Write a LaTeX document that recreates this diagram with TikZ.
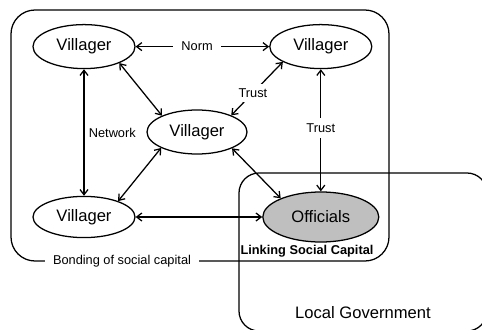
\documentclass[tikz,border=0pt]{standalone}
\usepackage{fontspec}
\setmainfont{Liberation Sans}
\usetikzlibrary{shapes.geometric,arrows.meta}

\begin{document}
\begin{tikzpicture}[
    actor/.style={ellipse, draw, line width=0.9pt, minimum width=2.55cm,
      minimum height=1.1cm, inner sep=0pt, font=\fontsize{11.8}{14}\selectfont},
    link/.style={line width=0.9pt,
      {Straight Barb[length=1.3mm,width=2mm]}-{Straight Barb[length=1.3mm,width=2mm]}},
    tag/.style={font=\fontsize{9.1}{11}\selectfont, fill=white, inner sep=1.5pt},
    region/.style={draw, line width=0.9pt}]
  \clip (0,0) rectangle (12.05,8.225);
  % groups
  \draw[region, rounded corners=0.6cm] (0.275,1.7) rectangle (9.725,7.975);
  \draw[region, rounded corners=0.5cm] (5.975,-0.05) rectangle (12.175,3.9);
  % villagers and officials
  \node[actor] (vtl) at (2.1,7.06) {Villager};
  \node[actor] (vtr) at (8.02,7.06) {Villager};
  \node[actor, minimum width=2.5cm] (vmid) at (4.925,4.925) {Villager};
  \node[actor, minimum height=1.03cm] (vbl) at (2.1,2.8) {Villager};
  \node[actor, fill=black!25, minimum width=2.9cm, minimum height=1.25cm]
    (off) at (8.02,2.8) {Officials};
  % ties
  \draw[link] (vtl.east) -- (vtr.west)
    node[tag, pos=0.46, inner xsep=6pt] (norm) {Norm};
  \draw[link] (vtl.south) -- (vbl.north)
    node[pos=0.5, right, font=\fontsize{9.1}{11}\selectfont, inner sep=3pt] (network) {Network};
  \draw[link] (vtl.335) -- (vmid.155);
  \draw[link] (vbl.25) -- (vmid.204);
  \draw[link] (vmid.26) -- (vtr.202)
    node[tag, pos=0.42, inner sep=3pt] (trustmid) {Trust};
  \draw[link] (vtr.south) -- (off.north)
    node[tag, pos=0.48, inner ysep=4pt] (trustoff) {Trust};
  \draw[link] (vmid.335) -- (off.155);
  \draw[link] (vbl.east) -- (off.west);
  % group labels
  \node[tag, inner xsep=5.5pt] (bonding) at (3.05,1.7) {Bonding of social capital};
  \node[font=\fontsize{9.1}{11}\selectfont\bfseries, inner sep=0pt] (linking) at (7.675,1.95) {Linking Social Capital};
  \node[font=\fontsize{11.8}{14}\selectfont] (localgov) at (9.075,0.4) {Local Government};
\end{tikzpicture}
\end{document}
